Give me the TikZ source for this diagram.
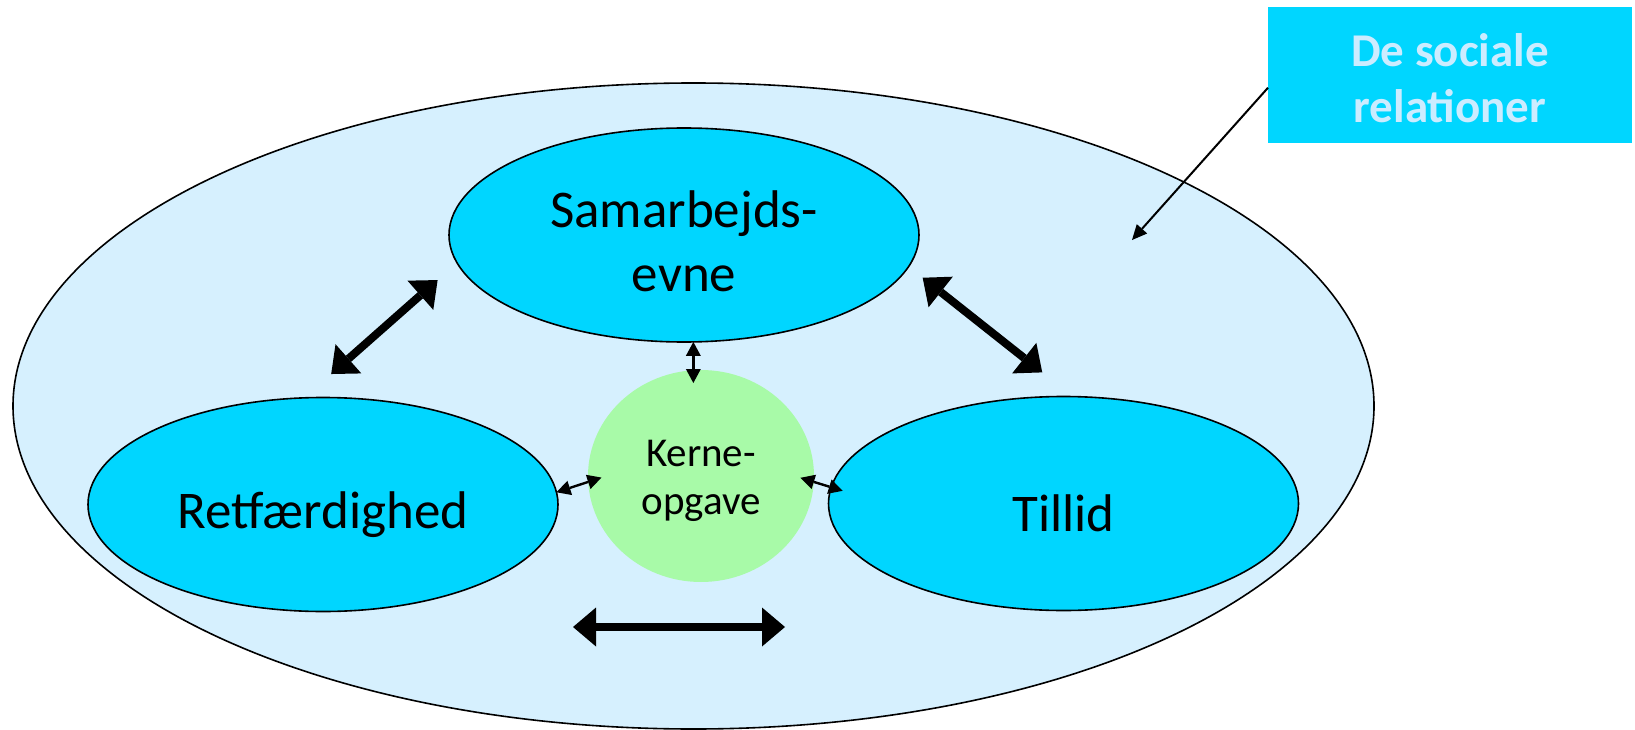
\documentclass[tikz,border=0pt]{standalone}
\usepackage{fontspec}
\setmainfont{Carlito}
\usetikzlibrary{positioning,arrows.meta,shapes.geometric}
\definecolor{outerblue}{RGB}{214,240,254}
\definecolor{innercyan}{RGB}{0,214,255}
\definecolor{coregreen}{RGB}{168,250,168}
\definecolor{captiontext}{RGB}{204,236,255}
\newcommand{\padtop}[2]{\raisebox{0pt}[\dimexpr\height+#1\relax]{#2}}
\tikzset{
    x=1pt,
    y=-1pt,
    relations/.style = {
        draw,
        shape=ellipse,
        fill=outerblue,
        line width=1.6pt,
        minimum width=1361pt,
        minimum height=646pt,
        inner sep=0pt,
        outer sep=0pt
    },
    quality/.style = {
        draw,
        shape=ellipse,
        fill=innercyan,
        line width=1.6pt,
        minimum width=470pt,
        minimum height=214pt,
        inner sep=0pt,
        outer sep=0pt,
        align=center,
        font=\fontsize{53}{64}\selectfont
    },
    core/.style = {
        shape=ellipse,
        fill=coregreen,
        minimum width=226pt,
        minimum height=212pt,
        inner sep=0pt,
        outer sep=0pt,
        align=center,
        font=\fontsize{41}{48}\selectfont
    },
    caption/.style = {
        shape=rectangle,
        fill=innercyan,
        text=captiontext,
        minimum width=364pt,
        minimum height=136pt,
        inner sep=0pt,
        outer sep=0pt,
        align=center,
        font=\bfseries\fontsize{47}{56}\selectfont
    },
    bigarrow/.style = {
        line width=8pt,
        >={Triangle[length=23pt,width=39pt,line width=0pt]},
        <->
    },
    smallarrow/.style = {
        line width=2.4pt,
        >={Triangle[length=14pt,width=15pt,line width=0pt]},
        <->
    },
    pointer/.style = {
        line width=2pt,
        >={Triangle[length=15pt,width=14pt,line width=0pt]},
        ->
    },
}

\begin{document}
\begin{tikzpicture}
            \useasboundingbox (0,0) rectangle (1635,730);

            \node[relations] (relations) at (693.5,406) {};
            \node[quality] (samarbejde) at (684,235) {\padtop{12pt}{Samarbejds-}\\evne};
            \node[quality] (retfaerd) at (323,504.5) {\padtop{21pt}{Retfærdighed}};
            \node[quality] (tillid) at (1063.5,503.5) {\padtop{19pt}{Tillid}};
            \node[core] (kerne) at (701,476) {\padtop{9pt}{Kerne-}\\opgave};
            \node[caption] (caption) at (1450,75) {\padtop{7pt}{De sociale}\\relationer};

            \coordinate (pointer end) at (1132,240);
            \coordinate (span left) at (573,627);
            \coordinate (span right) at (785,627);

            \path[draw, bigarrow, shorten <=26pt, shorten >=36pt] (samarbejde.187) -- (retfaerd.100);
            \path[draw, bigarrow, shorten <=18pt, shorten >=39pt] (samarbejde.352) -- (tillid.85);
            \path[draw, bigarrow] (span left) -- (span right);

            \path[draw, smallarrow, shorten >=-13pt] (samarbejde.275) -- (samarbejde.275 |- kerne.north);
            \path[draw, smallarrow, shorten >=-14pt] (retfaerd.3) -- (kerne.183);
            \path[draw, smallarrow, shorten <=-14pt, shorten >=-12pt] (kerne.357) -- (tillid.176);

            \path[draw, pointer] (caption.184) -- (pointer end);

\end{tikzpicture}
\end{document}
